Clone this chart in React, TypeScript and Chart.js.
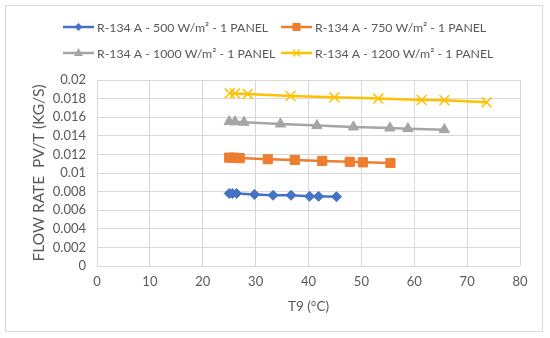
import React, { useEffect, useRef } from "react";
import { Chart, registerables } from "chart.js";

Chart.register(...registerables);

const seriesNames = [
  "R-134 A - 500 W/m² - 1 PANEL",
  "R-134 A - 750 W/m² - 1 PANEL",
  "R-134 A - 1000 W/m² - 1 PANEL",
  "R-134 A - 1200 W/m² - 1 PANEL",
];

const t500 = [25.0, 25.6, 26.4, 29.8, 33.3, 36.7, 40.2, 41.9, 45.3];
const f500 = [0.0078, 0.0078, 0.0078, 0.0077, 0.0076, 0.0076, 0.0075, 0.0075, 0.00745];

const t750 = [25.0, 25.9, 27.0, 32.3, 37.4, 42.6, 47.8, 50.3, 55.5];
const f750 = [0.01165, 0.01165, 0.0116, 0.01148, 0.0114, 0.0113, 0.0112, 0.01115, 0.01108];

const t1000 = [25.0, 26.1, 27.8, 34.7, 41.6, 48.5, 55.4, 58.8, 65.7];
const f1000 = [0.01552, 0.0155, 0.01545, 0.01527, 0.0151, 0.01495, 0.01484, 0.01477, 0.01466];

const t1200 = [25.1, 26.1, 28.5, 36.6, 44.9, 53.2, 61.4, 65.7, 73.7];
const f1200 = [0.01857, 0.01856, 0.0185, 0.01828, 0.01814, 0.018, 0.01785, 0.01782, 0.0176];

const colors = ["#4472C4", "#ED7D31", "#A5A5A5", "#FFC000"];
const pointStyles = ["rectRot", "rect", "triangle", "crossRot"];
const pointRadii = [5, 6.5, 6, 7];

const xTitle = "T9 (°C)";
const yTitle = "FLOW RATE  PV/T (KG/S)";

const FONT = "Lato, 'Open Sans', sans-serif";
const TEXT = "#595959";

const frame = {
  id: "frame",
  beforeDraw(chart: any) {
    const ctx = chart.ctx;
    ctx.save();
    ctx.fillStyle = "#ffffff";
    ctx.fillRect(0, 0, chart.width, chart.height);
    ctx.strokeStyle = "#d9d9d9";
    ctx.lineWidth = 1;
    ctx.strokeRect(5.5, 5.5, 537, 326);
    ctx.restore();
  },
};

function legendMarker(ctx: CanvasRenderingContext2D, i: number, x: number, y: number, color: string) {
  ctx.fillStyle = color;
  ctx.strokeStyle = color;
  ctx.beginPath();
  if (i === 0) {
    ctx.moveTo(x, y - 4);
    ctx.lineTo(x + 4, y);
    ctx.lineTo(x, y + 4);
    ctx.lineTo(x - 4, y);
    ctx.closePath();
    ctx.fill();
  } else if (i === 1) {
    ctx.rect(x - 4, y - 4, 8, 8);
    ctx.fill();
  } else if (i === 2) {
    ctx.moveTo(x, y - 5);
    ctx.lineTo(x + 4.5, y + 3);
    ctx.lineTo(x - 4.5, y + 3);
    ctx.closePath();
    ctx.fill();
  } else {
    ctx.lineWidth = 1.3;
    ctx.moveTo(x - 3.5, y - 3.5);
    ctx.lineTo(x + 3.5, y + 3.5);
    ctx.moveTo(x + 3.5, y - 3.5);
    ctx.lineTo(x - 3.5, y + 3.5);
    ctx.stroke();
  }
}

const customLegend = {
  id: "customLegend",
  afterDraw(chart: any) {
    const ctx = chart.ctx;
    const cols = [63, 281];
    const rows = [27, 53];
    ctx.save();
    chart.data.datasets.forEach((ds: any, i: number) => {
      const x0 = cols[i % 2];
      const y = rows[Math.floor(i / 2)];
      ctx.strokeStyle = ds.borderColor;
      ctx.lineWidth = 2.5;
      ctx.beginPath();
      ctx.moveTo(x0, y);
      ctx.lineTo(x0 + 31, y);
      ctx.stroke();
      legendMarker(ctx, i, x0 + 15.5, y, ds.borderColor);
      ctx.fillStyle = TEXT;
      ctx.font = `12.3px ${FONT}`;
      ctx.textBaseline = "middle";
      ctx.textAlign = "left";
      ctx.fillText(ds.label, x0 + 34, y + 1);
    });
    ctx.restore();
  },
};

export default function App() {
  const ref = useRef<HTMLCanvasElement>(null);
  useEffect(() => {
    if (!ref.current) return;
    const xs = [t500, t750, t1000, t1200];
    const ys = [f500, f750, f1000, f1200];
    const chart = new Chart(ref.current, {
      type: "scatter",
      data: {
        datasets: seriesNames.map((name, i) => ({
          label: name,
          data: xs[i].map((x, j) => ({ x, y: ys[i][j] })),
          showLine: true,
          borderColor: colors[i],
          backgroundColor: colors[i],
          borderWidth: 2.5,
          pointStyle: pointStyles[i] as any,
          pointRadius: pointRadii[i],
          pointBorderWidth: i === 3 ? 1.5 : 1,
          pointBorderColor: colors[i],
          pointBackgroundColor: colors[i],
          order: 4 - i,
        })),
      },
      options: {
        animation: false,
        responsive: false,
        layout: { padding: { top: 80, right: 30, left: 0, bottom: 0 } },
        plugins: {
          legend: { display: false },
          tooltip: { enabled: false },
        },
        scales: {
          x: {
            type: "linear",
            min: 0,
            max: 80,
            ticks: { stepSize: 10, color: TEXT, font: { family: FONT, size: 13 }, padding: 8 },
            grid: { color: "#d9d9d9", drawTicks: false },
            border: { display: false },
            title: {
              display: true,
              text: xTitle,
              color: TEXT,
              font: { family: FONT, size: 13.5 },
              padding: { top: 0, bottom: 23 },
            },
            afterFit(scale: any) {
              scale.height = 72;
            },
          },
          y: {
            type: "linear",
            min: 0,
            max: 0.02,
            ticks: {
              stepSize: 0.002,
              color: TEXT,
              font: { family: FONT, size: 13 },
              padding: 11,
              callback: (v: any) => String(Number(Number(v).toFixed(3))),
            },
            grid: { color: "#d9d9d9", drawTicks: false },
            border: { display: false },
            title: {
              display: true,
              text: yTitle,
              color: TEXT,
              font: { family: FONT, size: 15.5 },
              padding: { top: 30, bottom: 0 },
            },
            afterFit(scale: any) {
              scale.width = 97;
            },
          },
        },
      },
      plugins: [frame, customLegend],
    });
    return () => chart.destroy();
  }, []);
  return (
    <div style={{ position: "absolute", left: 0, top: 0, width: 550, height: 338 }}>
      <canvas ref={ref} width={550} height={338} />
    </div>
  );
}
